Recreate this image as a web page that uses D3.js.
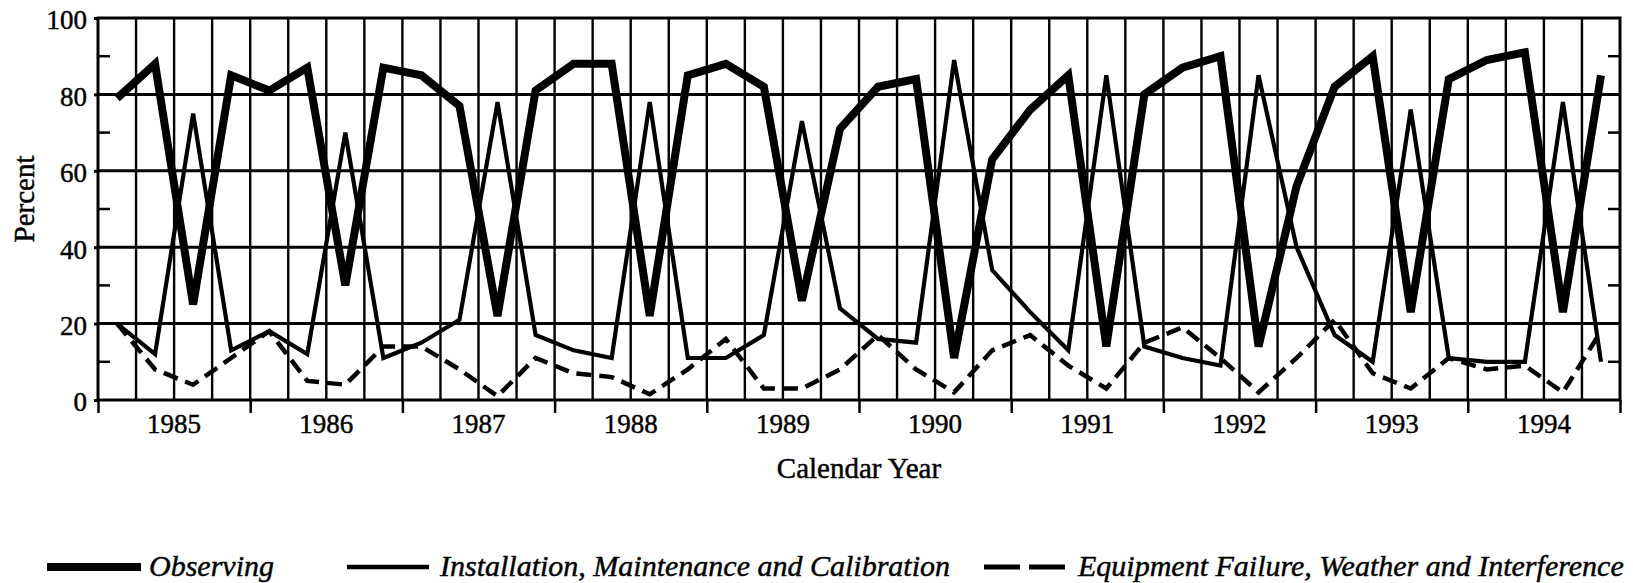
<!DOCTYPE html>
<html>
<head>
<meta charset="utf-8">
<script src="https://d3js.org/d3.v7.min.js"></script>
<style>
  body { margin: 0; background: #fff; }
  text { font-family: "Liberation Serif", "Times New Roman", serif; fill: #000; stroke: #000; stroke-width: 0.45px; }
</style>
</head>
<body>
<div id="chart"></div>
<script>
// quarterly values, 1985 Q1 .. 1994 Q4
var years = [1985, 1986, 1987, 1988, 1989, 1990, 1991, 1992, 1993, 1994];
var yTicks = [0, 20, 40, 60, 80, 100];
var yMinorTicks = [10, 30, 50, 70, 90];

var observing = [79, 88, 25, 85, 81, 87, 30, 87, 85, 77,
                 22, 81, 88, 88, 22, 85, 88, 82, 26, 71,
                 82, 84, 11, 63, 76, 85, 14, 80, 87, 90,
                 14, 56, 82, 90, 23, 84, 89, 91, 23, 85];
var installation = [20, 12, 75, 13, 18, 12, 70, 11, 15, 21,
                    78, 17, 13, 11, 78, 11, 11, 17, 73, 24,
                    16, 15, 89, 34, 23, 13, 85, 14, 11, 9,
                    85, 40, 17, 10, 76, 11, 10, 10, 78, 10];
var equipment = [20, 8, 4, 11, 18, 5, 4, 14, 14, 8,
                 1, 11, 7, 6, 1.5, 8, 16, 3, 3, 8,
                 17, 8, 2, 13, 17, 9, 3, 15, 19, 11,
                 2, 11, 21, 7, 3, 11, 8, 9, 2, 18];

var legendLabels = ["Observing", "Installation, Maintenance and Calibration",
                    "Equipment Failure, Weather and Interference"];

var margin = {top: 18, right: 13, bottom: 183, left: 98},
    width = 1633 - margin.left - margin.right,
    height = 583 - margin.top - margin.bottom;

var svg = d3.select("#chart")
  .append("svg")
    .attr("width", width + margin.left + margin.right)
    .attr("height", height + margin.top + margin.bottom)
  .append("g")
    .attr("transform", "translate(" + margin.left + "," + margin.top + ")");

var x = d3.scaleLinear()
    .domain([1985, 1995])
    .range([0, width]);

var y = d3.scaleLinear()
    .domain([0, 100])
    .range([height, 0]);

// quarter centre of point i
function qx(i) { return x(1985 + (i + 0.5) / 4); }

// vertical grid, one line per quarter
var quarters = d3.range(1, 40).map(d => 1985 + d / 4);
svg.append("g")
  .selectAll("line")
  .data(quarters)
  .enter().append("line")
    .attr("x1", d => x(d)).attr("x2", d => x(d))
    .attr("y1", 0).attr("y2", height)
    .attr("stroke", "#000")
    .attr("stroke-width", 2.4);

// horizontal grid
svg.append("g")
  .selectAll("line")
  .data(yTicks.slice(1, -1))
  .enter().append("line")
    .attr("x1", 0).attr("x2", width)
    .attr("y1", d => y(d)).attr("y2", d => y(d))
    .attr("stroke", "#000")
    .attr("stroke-width", 3);

// minor y ticks on both sides, pointing inward
svg.append("g")
  .selectAll("line")
  .data(yMinorTicks)
  .enter().append("line")
    .attr("x1", 0).attr("x2", 12)
    .attr("y1", d => y(d)).attr("y2", d => y(d))
    .attr("stroke", "#000").attr("stroke-width", 2.5);
svg.append("g")
  .selectAll("line")
  .data(yMinorTicks)
  .enter().append("line")
    .attr("x1", width - 12).attr("x2", width)
    .attr("y1", d => y(d)).attr("y2", d => y(d))
    .attr("stroke", "#000").attr("stroke-width", 2.5);

// y axis
var yAxis = svg.append("g")
    .call(d3.axisLeft(y).tickValues(yTicks).tickSize(4).tickPadding(7));
yAxis.select(".domain").remove();
yAxis.selectAll("line").attr("stroke-width", 3);
yAxis.selectAll("text")
    .style("font-size", "27px")
    .attr("dy", "0.4em");

// x axis: year boundaries as ticks, labels centred on each year
var xAxis = svg.append("g")
    .attr("transform", "translate(0," + height + ")")
    .call(d3.axisBottom(x).tickValues(d3.range(1985, 1996)).tickSize(13).tickFormat(""));
xAxis.select(".domain").remove();
xAxis.selectAll("line").attr("stroke-width", 2.5);

svg.append("g")
  .selectAll("text")
  .data(years)
  .enter().append("text")
    .attr("x", d => x(d + 0.5))
    .attr("y", height + 33)
    .style("text-anchor", "middle")
    .style("font-size", "27px")
    .text(d => d);

// frame
svg.append("rect")
    .attr("width", width).attr("height", height)
    .attr("fill", "none")
    .attr("stroke", "#000")
    .attr("stroke-width", 3);

// series
var line = d3.line()
    .x((d, i) => qx(i))
    .y(d => y(d));

svg.append("path")
    .datum(equipment)
    .attr("d", line)
    .attr("fill", "none")
    .attr("stroke", "#000")
    .attr("stroke-width", 4.5)
    .attr("stroke-dasharray", "15,8");

svg.append("path")
    .datum(installation)
    .attr("d", line)
    .attr("fill", "none")
    .attr("stroke", "#000")
    .attr("stroke-width", 4.2)
    .attr("stroke-linejoin", "miter");

svg.append("path")
    .datum(observing)
    .attr("d", line)
    .attr("fill", "none")
    .attr("stroke", "#000")
    .attr("stroke-width", 8)
    .attr("stroke-linejoin", "miter")
    .attr("stroke-miterlimit", 4);

// axis titles
svg.append("text")
    .attr("transform", "rotate(-90)")
    .attr("x", 0 - height / 2 + 10)
    .attr("y", 0 - margin.left + 34)
    .style("text-anchor", "middle")
    .style("font-size", "29px")
    .text("Percent");

svg.append("text")
    .attr("x", width / 2)
    .attr("y", height + 78)
    .style("text-anchor", "middle")
    .style("font-size", "29px")
    .text("Calendar Year");

// legend, drawn in page coordinates
var legend = d3.select("svg").append("g");
var legendItems = [
  {x1: 47, x2: 141, w: 8, dash: null, tx: 149},
  {x1: 347, x2: 429, w: 4.5, dash: null, tx: 440},
  {x1: 984, x2: 1067, w: 5, dash: "36,9", tx: 1078}
];
legendItems.forEach(function (d, i) {
  legend.append("line")
      .attr("x1", d.x1).attr("x2", d.x2)
      .attr("y1", 567).attr("y2", 567)
      .attr("stroke", "#000")
      .attr("stroke-width", d.w)
      .attr("stroke-dasharray", d.dash);
  legend.append("text")
      .attr("x", d.tx)
      .attr("y", 576)
      .style("font-size", "30px")
      .style("font-style", "italic")
      .text(legendLabels[i]);
});
</script>
</body>
</html>
